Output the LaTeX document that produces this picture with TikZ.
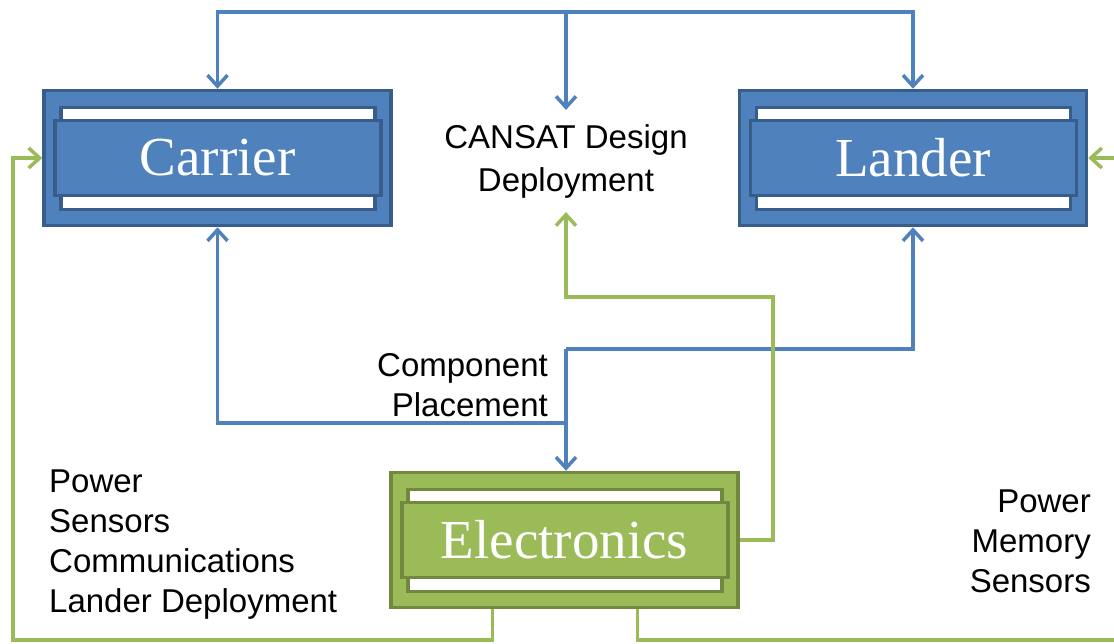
\documentclass[tikz,border=0pt]{standalone}
\usepackage{fontspec}
\usepackage{xcolor}
\usepackage{tikz}
\setsansfont{Liberation Sans}
\newfontfamily\panelfont{Liberation Serif}
\definecolor{bluefill}{RGB}{79, 129, 189}
\definecolor{blueedge}{RGB}{56, 93, 138}
\definecolor{greenfill}{RGB}{155, 187, 89}
\definecolor{greenedge}{RGB}{113, 137, 63}
\usetikzlibrary{arrows.meta, positioning}

\begin{document}
\begin{tikzpicture}[
        x=1pt, y=-1pt,
        panel/.style={rectangle, minimum width=347pt, minimum height=135pt, inner sep=0pt,
            line width=3.5pt, draw=#1edge, fill=#1fill, text=white,
            font=\panelfont\fontsize{55}{60}\selectfont,
            path picture={
                \path[draw=#1edge, line width=3.5pt, fill=white]
                    ([shift={(17pt,-17pt)}]path picture bounding box.north west) rectangle
                    ([shift={(-16pt,16pt)}]path picture bounding box.south east);
                \path[draw=#1edge, line width=3.5pt, fill=#1fill]
                    ([shift={(11pt,-30pt)}]path picture bounding box.north west) rectangle
                    ([shift={(-10pt,30pt)}]path picture bounding box.south east);
            }},
        note/.style={inner sep=0pt, font=\sffamily\fontsize{33}{40}\selectfont},
        bluearrow/.style={line width=3.5pt, color=bluefill, -{Straight Barb[length=11pt,width=20pt]}},
        greenarrow/.style={line width=3.5pt, color=greenfill, -{Straight Barb[length=11pt,width=20pt]}}
    ]

        \clip (0,0) rectangle (1114,643);

        \node[panel=blue] (carrier) at (217.5,158) {Carrier};
        \node[panel=blue, right=345pt of carrier] (lander) {Lander};
        \node[panel=green] (electronics) at (564.5,540) {Electronics};

        \node[note, align=center, inner ysep=14pt, font=\sffamily\fontsize{33}{43}\selectfont] (design) at (566,161) {CANSAT Design\\Deployment};
        \node[note, align=right, anchor=north east] (placement) at (548,353) {Component\\Placement};
        \node[note, align=left, anchor=north west] (carrierparts) at (49,470) {Power\\Sensors\\Communications\\Lander Deployment};
        \node[note, align=right, anchor=north east] (landerparts) at (1091,490) {Power\\Memory\\Sensors};

        \coordinate (topbus) at (566,12);
        \coordinate (placebus) at (566,349);
        \coordinate (placejoin) at (566,423);

        \draw[bluearrow] (topbus) -| (carrier.north);
        \draw[bluearrow] (topbus) -| (lander.north);
        \draw[bluearrow] (topbus) -- (design.north);
        \draw[bluearrow] (placebus) -| (lander.south);
        \draw[bluearrow] (placebus) -- (placebus |- electronics.north);
        \draw[bluearrow] (placejoin) -| (carrier.south);

        \draw[greenarrow] (electronics.east) -| (773,297) -| (design.south);
        \draw[greenarrow] ([xshift=-72pt]electronics.south) |- (13,640) |- (carrier.west);
        \draw[greenarrow] ([xshift=73pt]electronics.south) |- (1125,640) |- (lander.east);

    \end{tikzpicture}
\end{document}
